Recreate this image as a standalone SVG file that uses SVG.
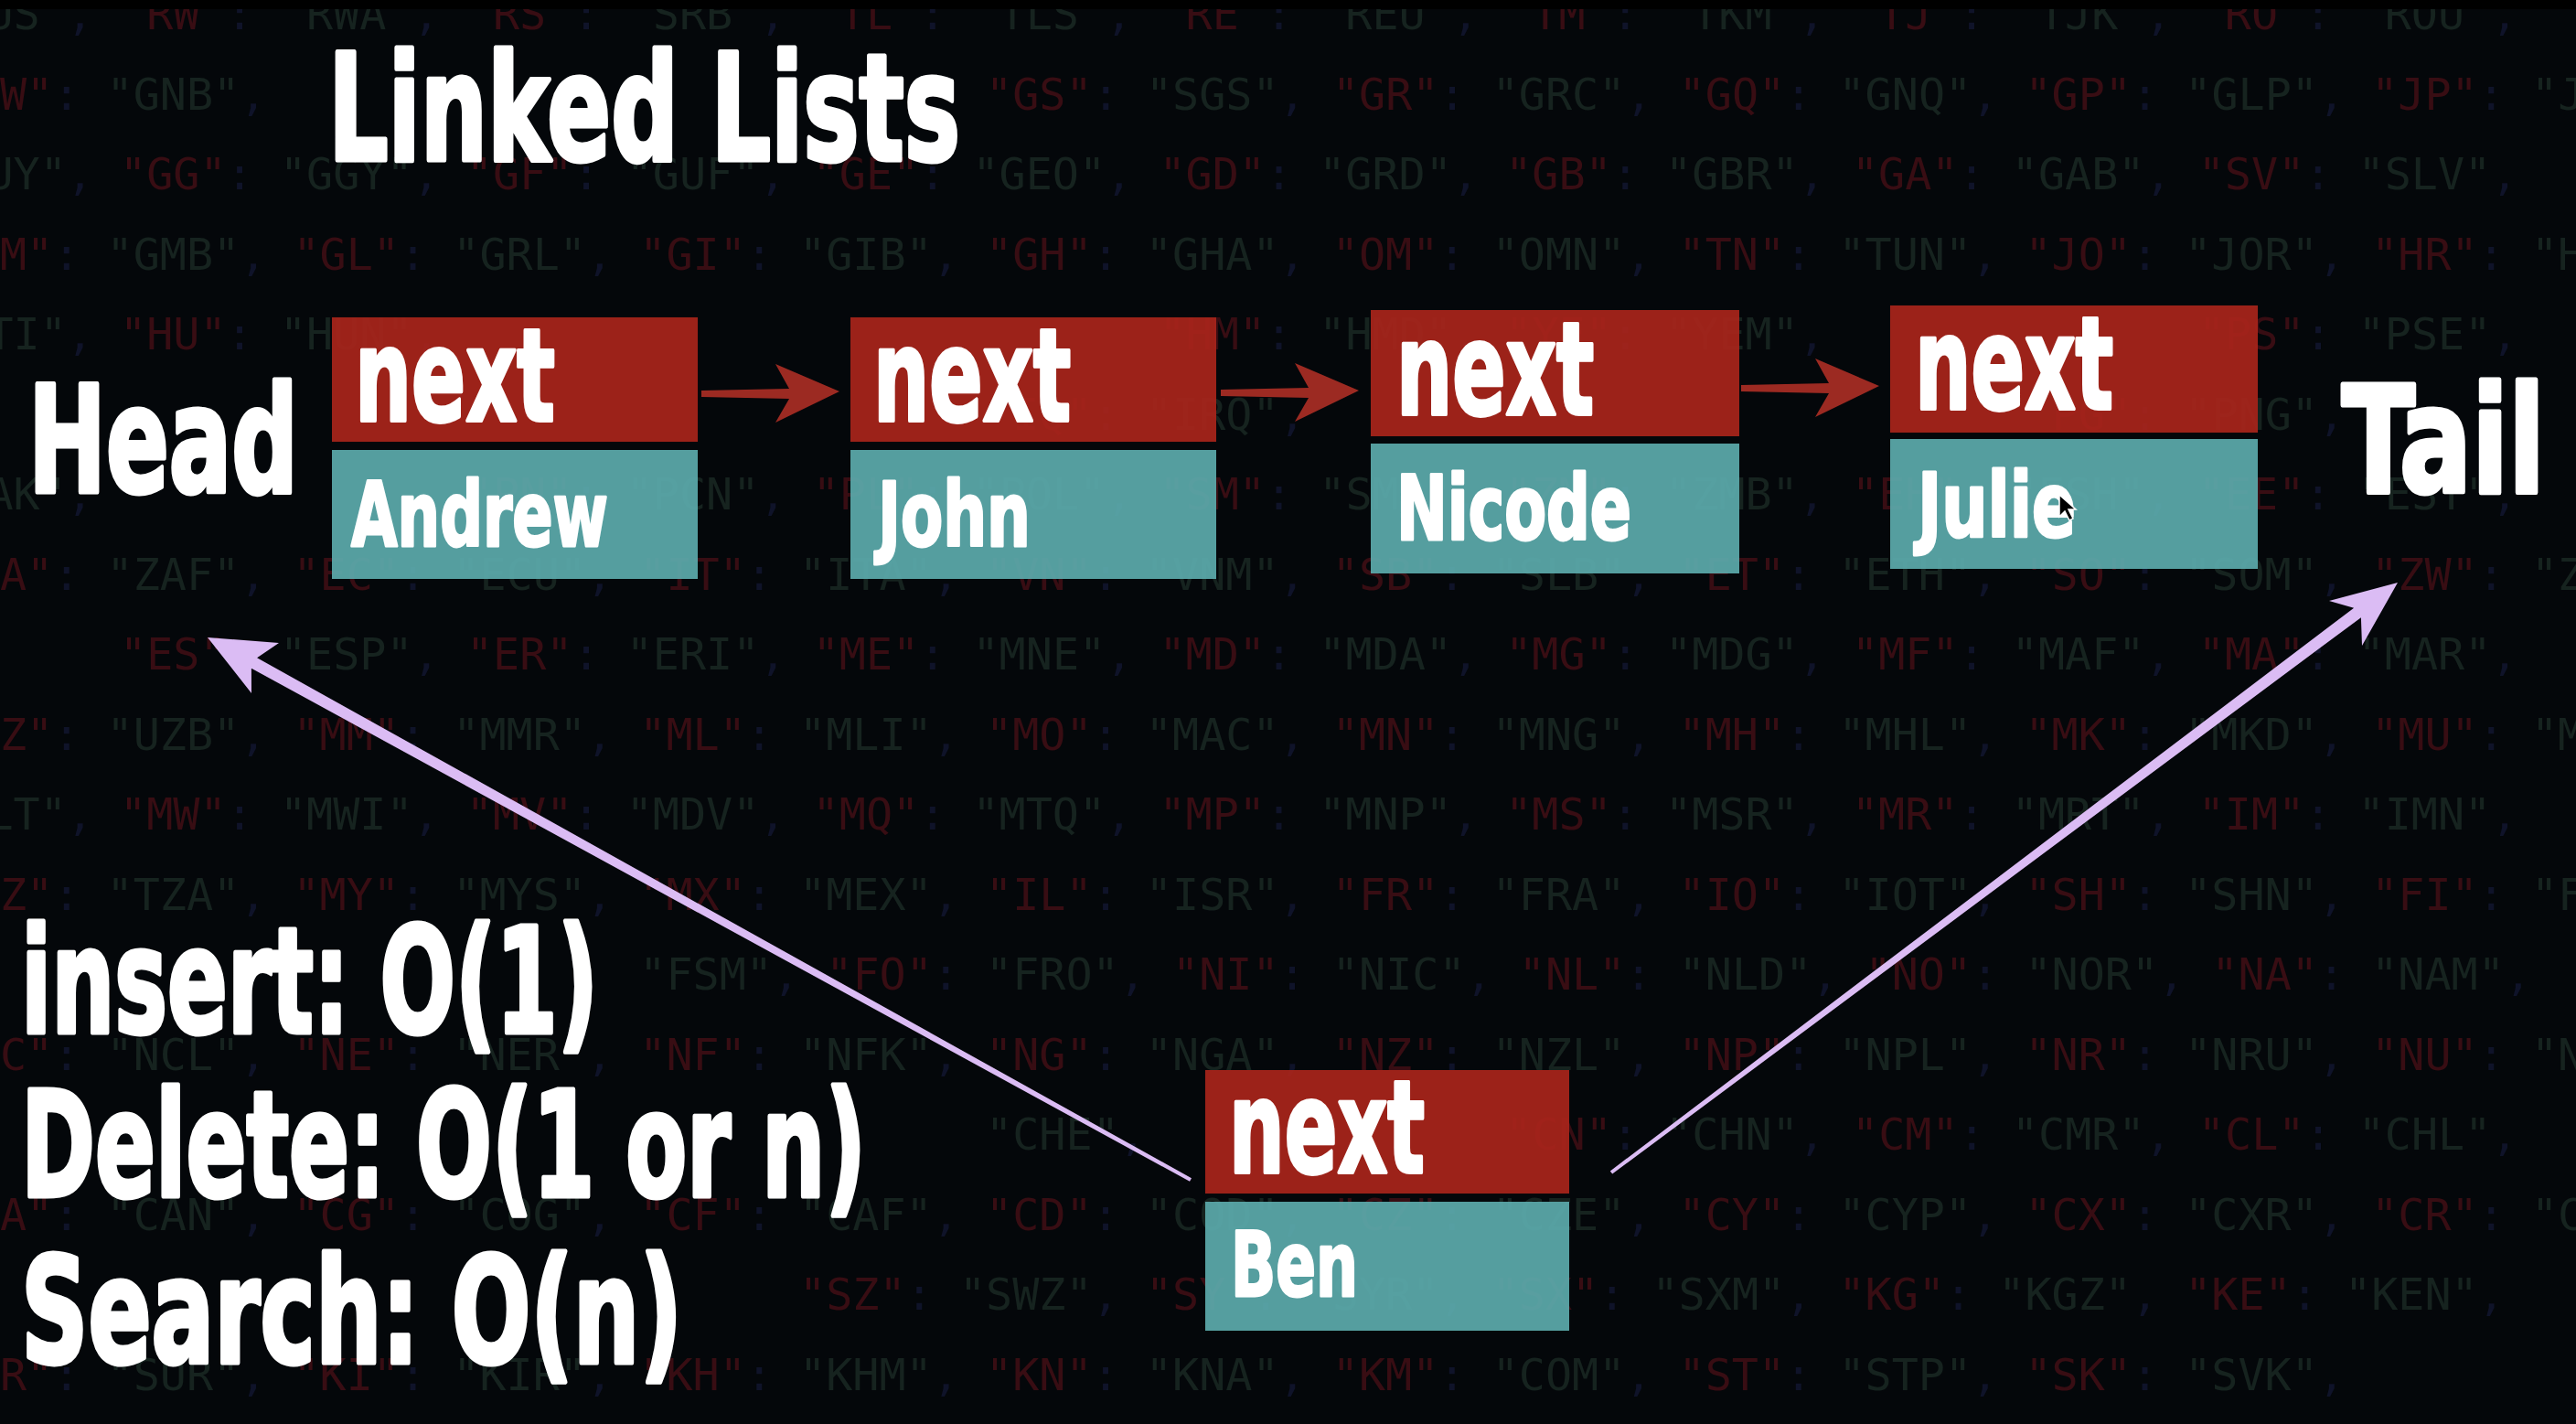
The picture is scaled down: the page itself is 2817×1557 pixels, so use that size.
<svg xmlns="http://www.w3.org/2000/svg" width="2817" height="1557" viewBox="0 0 2817 1557">
<style>
.bgt{font-family:'DejaVu Sans Mono','Liberation Mono',monospace;font-size:48.4px;fill:#0f1329}
.r{fill:#380d13}
.g{fill:#16231f}
.w{font-family:'Liberation Sans Narrow','DejaVu Sans Condensed','DejaVu Sans','Liberation Sans',sans-serif;font-stretch:condensed;font-weight:bold;fill:#fff;stroke:#fff;stroke-linejoin:round}
.big{font-size:162px;stroke-width:5}
.nx{font-size:140px;stroke-width:4}
.nm{font-size:98px;stroke-width:3}
.cx{font-size:160px;stroke-width:5}
.red{fill:#a8251b;fill-opacity:.93}
.teal{fill:#5baaab;fill-opacity:.93}
.ra{fill:#9c2a22}
.pa{fill:#dbbcf4}
</style>
<defs>
<path id="ra" class="ra" d="M-151,-1 L-55,-3 L-70,-30 L0,0 L-70,34 L-55,8 L-151,6 Z"/>
</defs>
<rect width="2817" height="1557" fill="#04070a"/>
<g id="background-codes" class="bgt" xml:space="preserve">
<text x="-72.9" y="32"><tspan class="g">"RUS"</tspan>, <tspan class="r">"RW"</tspan>: <tspan class="g">"RWA"</tspan>, <tspan class="r">"RS"</tspan>: <tspan class="g">"SRB"</tspan>, <tspan class="r">"TL"</tspan>: <tspan class="g">"TLS"</tspan>, <tspan class="r">"RE"</tspan>: <tspan class="g">"REU"</tspan>, <tspan class="r">"TM"</tspan>: <tspan class="g">"TKM"</tspan>, <tspan class="r">"TJ"</tspan>: <tspan class="g">"TJK"</tspan>, <tspan class="r">"RO"</tspan>: <tspan class="g">"ROU"</tspan>,</text>
<text x="-58.3" y="119.5"><tspan class="r">"GW"</tspan>: <tspan class="g">"GNB"</tspan>,</text>
<text x="1078.1" y="119.5"><tspan class="r">"GS"</tspan>: <tspan class="g">"SGS"</tspan>, <tspan class="r">"GR"</tspan>: <tspan class="g">"GRC"</tspan>, <tspan class="r">"GQ"</tspan>: <tspan class="g">"GNQ"</tspan>, <tspan class="r">"GP"</tspan>: <tspan class="g">"GLP"</tspan>, <tspan class="r">"JP"</tspan>: <tspan class="g">"JPN"</tspan>,</text>
<text x="-72.9" y="207"><tspan class="g">"GUY"</tspan>, <tspan class="r">"GG"</tspan>: <tspan class="g">"GGY"</tspan>, <tspan class="r">"GF"</tspan>: <tspan class="g">"GUF"</tspan>, <tspan class="r">"GE"</tspan>: <tspan class="g">"GEO"</tspan>, <tspan class="r">"GD"</tspan>: <tspan class="g">"GRD"</tspan>, <tspan class="r">"GB"</tspan>: <tspan class="g">"GBR"</tspan>, <tspan class="r">"GA"</tspan>: <tspan class="g">"GAB"</tspan>, <tspan class="r">"SV"</tspan>: <tspan class="g">"SLV"</tspan>,</text>
<text x="-58.3" y="294.5"><tspan class="r">"GM"</tspan>: <tspan class="g">"GMB"</tspan>, <tspan class="r">"GL"</tspan>: <tspan class="g">"GRL"</tspan>, <tspan class="r">"GI"</tspan>: <tspan class="g">"GIB"</tspan>, <tspan class="r">"GH"</tspan>: <tspan class="g">"GHA"</tspan>, <tspan class="r">"OM"</tspan>: <tspan class="g">"OMN"</tspan>, <tspan class="r">"TN"</tspan>: <tspan class="g">"TUN"</tspan>, <tspan class="r">"JO"</tspan>: <tspan class="g">"JOR"</tspan>, <tspan class="r">"HR"</tspan>: <tspan class="g">"HRV"</tspan>,</text>
<text x="-72.9" y="382"><tspan class="g">"HTI"</tspan>, <tspan class="r">"HU"</tspan>: <tspan class="g">"HUN"</tspan>,</text>
<text x="1267.5" y="382"><tspan class="r">"HM"</tspan>: <tspan class="g">"HMD"</tspan>, <tspan class="r">"YE"</tspan>: <tspan class="g">"YEM"</tspan>,</text>
<text x="2403.9" y="382"><tspan class="r">"PS"</tspan>: <tspan class="g">"PSE"</tspan>,</text>
<text x="1078.1" y="469.5"><tspan class="r">"IQ"</tspan>: <tspan class="g">"IRQ"</tspan>,</text>
<text x="2214.5" y="469.5"><tspan class="r">"PG"</tspan>: <tspan class="g">"PNG"</tspan>,</text>
<text x="-72.9" y="557"><tspan class="g">"PAK"</tspan>,</text>
<text x="509.9" y="557"><tspan class="r">"PN"</tspan>: <tspan class="g">"PCN"</tspan>, <tspan class="r">"PL"</tspan>: <tspan class="g">"POL"</tspan>, <tspan class="r">"SM"</tspan>: <tspan class="g">"SMR"</tspan>, <tspan class="r">"ZM"</tspan>: <tspan class="g">"ZMB"</tspan>, <tspan class="r">"EH"</tspan>: <tspan class="g">"ESH"</tspan>, <tspan class="r">"EE"</tspan>: <tspan class="g">"EST"</tspan>,</text>
<text x="-58.3" y="644.5"><tspan class="r">"ZA"</tspan>: <tspan class="g">"ZAF"</tspan>, <tspan class="r">"EC"</tspan>: <tspan class="g">"ECU"</tspan>, <tspan class="r">"IT"</tspan>: <tspan class="g">"ITA"</tspan>, <tspan class="r">"VN"</tspan>: <tspan class="g">"VNM"</tspan>, <tspan class="r">"SB"</tspan>: <tspan class="g">"SLB"</tspan>, <tspan class="r">"ET"</tspan>: <tspan class="g">"ETH"</tspan>, <tspan class="r">"SO"</tspan>: <tspan class="g">"SOM"</tspan>, <tspan class="r">"ZW"</tspan>: <tspan class="g">"ZWE"</tspan>,</text>
<text x="131.1" y="732"><tspan class="r">"ES"</tspan>: <tspan class="g">"ESP"</tspan>, <tspan class="r">"ER"</tspan>: <tspan class="g">"ERI"</tspan>, <tspan class="r">"ME"</tspan>: <tspan class="g">"MNE"</tspan>, <tspan class="r">"MD"</tspan>: <tspan class="g">"MDA"</tspan>, <tspan class="r">"MG"</tspan>: <tspan class="g">"MDG"</tspan>, <tspan class="r">"MF"</tspan>: <tspan class="g">"MAF"</tspan>, <tspan class="r">"MA"</tspan>: <tspan class="g">"MAR"</tspan>,</text>
<text x="-58.3" y="819.5"><tspan class="r">"UZ"</tspan>: <tspan class="g">"UZB"</tspan>, <tspan class="r">"MM"</tspan>: <tspan class="g">"MMR"</tspan>, <tspan class="r">"ML"</tspan>: <tspan class="g">"MLI"</tspan>, <tspan class="r">"MO"</tspan>: <tspan class="g">"MAC"</tspan>, <tspan class="r">"MN"</tspan>: <tspan class="g">"MNG"</tspan>, <tspan class="r">"MH"</tspan>: <tspan class="g">"MHL"</tspan>, <tspan class="r">"MK"</tspan>: <tspan class="g">"MKD"</tspan>, <tspan class="r">"MU"</tspan>: <tspan class="g">"MUS"</tspan>,</text>
<text x="-72.9" y="907"><tspan class="g">"MLT"</tspan>, <tspan class="r">"MW"</tspan>: <tspan class="g">"MWI"</tspan>, <tspan class="r">"MV"</tspan>: <tspan class="g">"MDV"</tspan>, <tspan class="r">"MQ"</tspan>: <tspan class="g">"MTQ"</tspan>, <tspan class="r">"MP"</tspan>: <tspan class="g">"MNP"</tspan>, <tspan class="r">"MS"</tspan>: <tspan class="g">"MSR"</tspan>, <tspan class="r">"MR"</tspan>: <tspan class="g">"MRT"</tspan>, <tspan class="r">"IM"</tspan>: <tspan class="g">"IMN"</tspan>,</text>
<text x="-58.3" y="994.5"><tspan class="r">"TZ"</tspan>: <tspan class="g">"TZA"</tspan>, <tspan class="r">"MY"</tspan>: <tspan class="g">"MYS"</tspan>, <tspan class="r">"MX"</tspan>: <tspan class="g">"MEX"</tspan>, <tspan class="r">"IL"</tspan>: <tspan class="g">"ISR"</tspan>, <tspan class="r">"FR"</tspan>: <tspan class="g">"FRA"</tspan>, <tspan class="r">"IO"</tspan>: <tspan class="g">"IOT"</tspan>, <tspan class="r">"SH"</tspan>: <tspan class="g">"SHN"</tspan>, <tspan class="r">"FI"</tspan>: <tspan class="g">"FIN"</tspan>,</text>
<text x="699.3" y="1082"><tspan class="g">"FSM"</tspan>, <tspan class="r">"FO"</tspan>: <tspan class="g">"FRO"</tspan>, <tspan class="r">"NI"</tspan>: <tspan class="g">"NIC"</tspan>, <tspan class="r">"NL"</tspan>: <tspan class="g">"NLD"</tspan>, <tspan class="r">"NO"</tspan>: <tspan class="g">"NOR"</tspan>, <tspan class="r">"NA"</tspan>: <tspan class="g">"NAM"</tspan>,</text>
<text x="-58.3" y="1169.5"><tspan class="r">"NC"</tspan>: <tspan class="g">"NCL"</tspan>, <tspan class="r">"NE"</tspan>: <tspan class="g">"NER"</tspan>, <tspan class="r">"NF"</tspan>: <tspan class="g">"NFK"</tspan>, <tspan class="r">"NG"</tspan>: <tspan class="g">"NGA"</tspan>, <tspan class="r">"NZ"</tspan>: <tspan class="g">"NZL"</tspan>, <tspan class="r">"NP"</tspan>: <tspan class="g">"NPL"</tspan>, <tspan class="r">"NR"</tspan>: <tspan class="g">"NRU"</tspan>, <tspan class="r">"NU"</tspan>: <tspan class="g">"NIU"</tspan>,</text>
<text x="1078.1" y="1257"><tspan class="g">"CHE"</tspan>,</text>
<text x="1646.3" y="1257"><tspan class="r">"CN"</tspan>: <tspan class="g">"CHN"</tspan>, <tspan class="r">"CM"</tspan>: <tspan class="g">"CMR"</tspan>, <tspan class="r">"CL"</tspan>: <tspan class="g">"CHL"</tspan>,</text>
<text x="-58.3" y="1344.5"><tspan class="r">"CA"</tspan>: <tspan class="g">"CAN"</tspan>, <tspan class="r">"CG"</tspan>: <tspan class="g">"COG"</tspan>, <tspan class="r">"CF"</tspan>: <tspan class="g">"CAF"</tspan>, <tspan class="r">"CD"</tspan>: <tspan class="g">"COD"</tspan>, <tspan class="r">"CZ"</tspan>: <tspan class="g">"CZE"</tspan>, <tspan class="r">"CY"</tspan>: <tspan class="g">"CYP"</tspan>, <tspan class="r">"CX"</tspan>: <tspan class="g">"CXR"</tspan>, <tspan class="r">"CR"</tspan>: <tspan class="g">"CRI"</tspan>,</text>
<text x="874.1" y="1432"><tspan class="r">"SZ"</tspan>: <tspan class="g">"SWZ"</tspan>, <tspan class="r">"SY"</tspan>: <tspan class="g">"SYR"</tspan>, <tspan class="r">"SX"</tspan>: <tspan class="g">"SXM"</tspan>, <tspan class="r">"KG"</tspan>: <tspan class="g">"KGZ"</tspan>, <tspan class="r">"KE"</tspan>: <tspan class="g">"KEN"</tspan>,</text>
<text x="-58.3" y="1519.5"><tspan class="r">"SR"</tspan>: <tspan class="g">"SUR"</tspan>, <tspan class="r">"KI"</tspan>: <tspan class="g">"KIR"</tspan>, <tspan class="r">"KH"</tspan>: <tspan class="g">"KHM"</tspan>, <tspan class="r">"KN"</tspan>: <tspan class="g">"KNA"</tspan>, <tspan class="r">"KM"</tspan>: <tspan class="g">"COM"</tspan>, <tspan class="r">"ST"</tspan>: <tspan class="g">"STP"</tspan>, <tspan class="r">"SK"</tspan>: <tspan class="g">"SVK"</tspan>,</text>
</g>
<rect width="2817" height="10" fill="#000"/>
<g id="title"><text class="w big" x="359" y="175" textLength="691" lengthAdjust="spacingAndGlyphs">Linked Lists</text></g>
<g id="head-label"><text class="w big" x="31" y="538" textLength="295" lengthAdjust="spacingAndGlyphs">Head</text></g>
<g id="tail-label"><text class="w big" x="2561" y="538" textLength="222" lengthAdjust="spacingAndGlyphs">Tail</text></g>
<g id="node-andrew">
<rect class="red" x="363" y="347" width="400" height="136"/>
<rect class="teal" x="363" y="492" width="400" height="141"/>
<text class="w nx" x="388" y="460" textLength="219" lengthAdjust="spacingAndGlyphs">next</text>
<text class="w nm" x="384" y="597" textLength="281" lengthAdjust="spacingAndGlyphs">Andrew</text>
</g>
<g id="node-john">
<rect class="red" x="930" y="347" width="400" height="136"/>
<rect class="teal" x="930" y="492" width="400" height="141"/>
<text class="w nx" x="955" y="460" textLength="216" lengthAdjust="spacingAndGlyphs">next</text>
<text class="w nm" x="960" y="597" textLength="167" lengthAdjust="spacingAndGlyphs">John</text>
</g>
<g id="node-nicode">
<rect class="red" x="1499" y="339" width="403" height="138"/>
<rect class="teal" x="1499" y="485" width="403" height="142"/>
<text class="w nx" x="1527" y="453" textLength="216" lengthAdjust="spacingAndGlyphs">next</text>
<text class="w nm" x="1527" y="590" textLength="257" lengthAdjust="spacingAndGlyphs">Nicode</text>
</g>
<g id="node-julie">
<rect class="red" x="2067" y="334" width="402" height="139"/>
<rect class="teal" x="2067" y="480" width="402" height="142"/>
<text class="w nx" x="2094" y="447" textLength="217" lengthAdjust="spacingAndGlyphs">next</text>
<text class="w nm" x="2097" y="587" textLength="173" lengthAdjust="spacingAndGlyphs">Julie</text>
</g>
<g id="node-ben">
<rect class="red" x="1318" y="1170" width="398" height="135"/>
<rect class="teal" x="1318" y="1314" width="398" height="141"/>
<text class="w nx" x="1344" y="1282" textLength="214" lengthAdjust="spacingAndGlyphs">next</text>
<text class="w nm" x="1346" y="1417" textLength="139" lengthAdjust="spacingAndGlyphs">Ben</text>
</g>
<g id="complexity">
<text class="w cx" x="23" y="1129" textLength="631" lengthAdjust="spacingAndGlyphs">insert: O(1)</text>
<text class="w cx" x="23" y="1308" textLength="924" lengthAdjust="spacingAndGlyphs">Delete: O(1 or n)</text>
<text class="w cx" x="23" y="1490" textLength="723" lengthAdjust="spacingAndGlyphs">Search: O(n)</text>
</g>
<g id="connectors">
<use href="#ra" x="918" y="428"/>
<use href="#ra" x="1486" y="427"/>
<use href="#ra" x="2055" y="422"/>
<polygon class="pa" points="1303,1288.2 281.1,719.3 305,703 227,697 275,758 274.9,730.7 1301,1291.8"/>
<polygon class="pa" points="1763.2,1283.6 2581.9,675.2 2583,706 2622,637 2547,657 2574.1,664.8 1760.8,1280.4"/>
</g>
<g id="cursor">
<path d="M2252,541 L2252,565 L2258,559 L2263,569 L2267,567 L2262,557 L2270,557 Z" fill="#000" stroke="#fff" stroke-width="1.5"/>
</g>
</svg>
